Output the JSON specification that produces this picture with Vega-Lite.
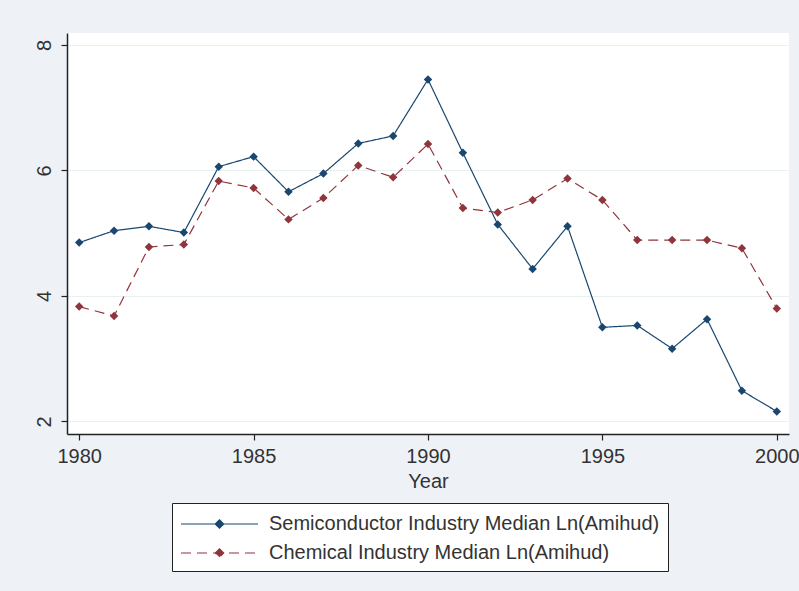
{
  "$schema": "https://vega.github.io/schema/vega-lite/v6.json",
  "width": 722,
  "height": 401,
  "autosize": "none",
  "padding": {"left": 67, "top": 33, "right": 10, "bottom": 157},
  "background": "#EEF2F7",
  "config": {
    "font": "Liberation Sans",
    "view": {"fill": "white", "stroke": null}
  },
  "data": {
    "values": [
      {"year": 1980, "series": "Semiconductor Industry Median Ln(Amihud)", "value": 4.85},
      {"year": 1981, "series": "Semiconductor Industry Median Ln(Amihud)", "value": 5.04},
      {"year": 1982, "series": "Semiconductor Industry Median Ln(Amihud)", "value": 5.11},
      {"year": 1983, "series": "Semiconductor Industry Median Ln(Amihud)", "value": 5.01},
      {"year": 1984, "series": "Semiconductor Industry Median Ln(Amihud)", "value": 6.06},
      {"year": 1985, "series": "Semiconductor Industry Median Ln(Amihud)", "value": 6.22},
      {"year": 1986, "series": "Semiconductor Industry Median Ln(Amihud)", "value": 5.66},
      {"year": 1987, "series": "Semiconductor Industry Median Ln(Amihud)", "value": 5.95},
      {"year": 1988, "series": "Semiconductor Industry Median Ln(Amihud)", "value": 6.43},
      {"year": 1989, "series": "Semiconductor Industry Median Ln(Amihud)", "value": 6.55},
      {"year": 1990, "series": "Semiconductor Industry Median Ln(Amihud)", "value": 7.45},
      {"year": 1991, "series": "Semiconductor Industry Median Ln(Amihud)", "value": 6.28},
      {"year": 1992, "series": "Semiconductor Industry Median Ln(Amihud)", "value": 5.14},
      {"year": 1993, "series": "Semiconductor Industry Median Ln(Amihud)", "value": 4.43},
      {"year": 1994, "series": "Semiconductor Industry Median Ln(Amihud)", "value": 5.11},
      {"year": 1995, "series": "Semiconductor Industry Median Ln(Amihud)", "value": 3.50},
      {"year": 1996, "series": "Semiconductor Industry Median Ln(Amihud)", "value": 3.53},
      {"year": 1997, "series": "Semiconductor Industry Median Ln(Amihud)", "value": 3.16},
      {"year": 1998, "series": "Semiconductor Industry Median Ln(Amihud)", "value": 3.63},
      {"year": 1999, "series": "Semiconductor Industry Median Ln(Amihud)", "value": 2.49},
      {"year": 2000, "series": "Semiconductor Industry Median Ln(Amihud)", "value": 2.16},
      {"year": 1980, "series": "Chemical Industry Median Ln(Amihud)", "value": 3.83},
      {"year": 1981, "series": "Chemical Industry Median Ln(Amihud)", "value": 3.68},
      {"year": 1982, "series": "Chemical Industry Median Ln(Amihud)", "value": 4.78},
      {"year": 1983, "series": "Chemical Industry Median Ln(Amihud)", "value": 4.82},
      {"year": 1984, "series": "Chemical Industry Median Ln(Amihud)", "value": 5.83},
      {"year": 1985, "series": "Chemical Industry Median Ln(Amihud)", "value": 5.72},
      {"year": 1986, "series": "Chemical Industry Median Ln(Amihud)", "value": 5.22},
      {"year": 1987, "series": "Chemical Industry Median Ln(Amihud)", "value": 5.56},
      {"year": 1988, "series": "Chemical Industry Median Ln(Amihud)", "value": 6.08},
      {"year": 1989, "series": "Chemical Industry Median Ln(Amihud)", "value": 5.89},
      {"year": 1990, "series": "Chemical Industry Median Ln(Amihud)", "value": 6.42},
      {"year": 1991, "series": "Chemical Industry Median Ln(Amihud)", "value": 5.40},
      {"year": 1992, "series": "Chemical Industry Median Ln(Amihud)", "value": 5.33},
      {"year": 1993, "series": "Chemical Industry Median Ln(Amihud)", "value": 5.53},
      {"year": 1994, "series": "Chemical Industry Median Ln(Amihud)", "value": 5.87},
      {"year": 1995, "series": "Chemical Industry Median Ln(Amihud)", "value": 5.53},
      {"year": 1996, "series": "Chemical Industry Median Ln(Amihud)", "value": 4.89},
      {"year": 1997, "series": "Chemical Industry Median Ln(Amihud)", "value": 4.89},
      {"year": 1998, "series": "Chemical Industry Median Ln(Amihud)", "value": 4.89},
      {"year": 1999, "series": "Chemical Industry Median Ln(Amihud)", "value": 4.76},
      {"year": 2000, "series": "Chemical Industry Median Ln(Amihud)", "value": 3.80}
    ]
  },
  "encoding": {
    "x": {
      "field": "year", "type": "quantitative",
      "scale": {"domain": [1979.65, 2000.35], "nice": false, "zero": false},
      "axis": {
        "title": "Year", "values": [1980, 1985, 1990, 1995, 2000], "format": "d",
        "grid": false, "domainColor": "#222222", "domainWidth": 1.5,
        "tickColor": "#222222", "tickWidth": 1.2, "tickSize": 6,
        "labelFontSize": 20, "labelColor": "#333333", "labelPadding": 6, "labelFlush": false,
        "titleFontSize": 20, "titleFontWeight": "normal", "titleColor": "#333333", "titlePadding": 5
      }
    },
    "y": {
      "field": "value", "type": "quantitative",
      "scale": {"domain": [1.8, 8.19], "nice": false, "zero": false},
      "axis": {
        "title": null, "values": [2, 4, 6, 8],
        "grid": true, "gridColor": "#E8F0F2", "gridWidth": 1,
        "domainColor": "#222222", "domainWidth": 1.5,
        "tickColor": "#222222", "tickWidth": 1.2, "tickSize": 6,
        "labelFontSize": 20, "labelColor": "#333333", "labelAngle": 270,
        "labelAlign": "center", "labelBaseline": "alphabetic", "labelPadding": 11
      }
    },
    "color": {
      "field": "series", "type": "nominal",
      "scale": {
        "domain": ["Semiconductor Industry Median Ln(Amihud)", "Chemical Industry Median Ln(Amihud)"],
        "range": ["#1a476f", "#90353b"]
      },
      "legend": {
        "title": null, "orient": "none", "legendX": 105, "legendY": 470,
        "direction": "vertical",
        "fillColor": "white", "strokeColor": "#222222",
        "padding": 8, "rowPadding": 6,
        "symbolSize": 576, "symbolStrokeWidth": 1.2,
        "symbolType": "M-1,0L5.417,0M2.208,-0.35L2.558,0L2.208,0.35L1.858,0Z",
        "labelFontSize": 20, "labelColor": "#333333", "labelOffset": 63, "labelLimit": 600,
        "encode": {"symbols": {"update": {"fill": {"scale": "color", "field": "value"}, "opacity": {"value": 1}}}}
      }
    }
  },
  "layer": [
    {
      "mark": {"type": "line", "strokeWidth": 1.2},
      "encoding": {
        "strokeDash": {
          "field": "series", "type": "nominal",
          "scale": {
            "domain": ["Semiconductor Industry Median Ln(Amihud)", "Chemical Industry Median Ln(Amihud)"],
            "range": [[1, 0], [10, 6]]
          },
          "legend": {
            "title": null, "orient": "none", "legendX": 105, "legendY": 470
          }
        }
      }
    },
    {
      "mark": {"type": "point", "shape": "diamond", "filled": true, "size": 72, "opacity": 1}
    }
  ]
}
